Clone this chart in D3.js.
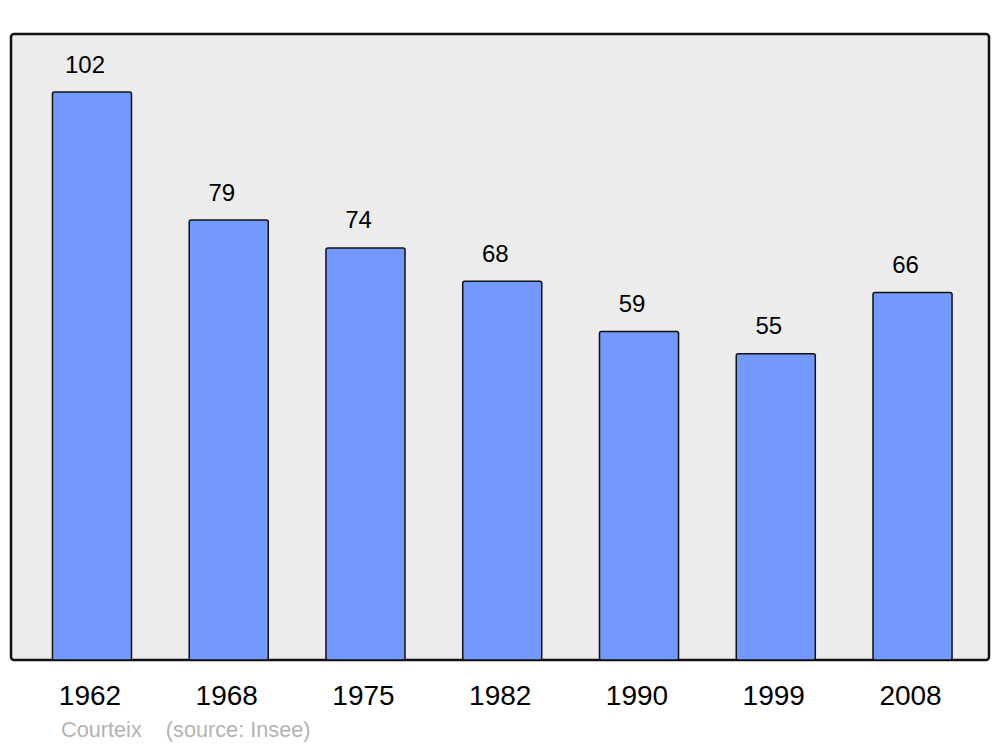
<!DOCTYPE html>
<html><head><meta charset="utf-8">
<script src="https://cdn.jsdelivr.net/npm/d3@7"></script>
<style>html,body{margin:0;padding:0;background:#fff;}</style>
</head><body>
<script>
const years = ["1962","1968","1975","1982","1990","1999","2008"];
const values = [102, 79, 74, 68, 59, 55, 66];
const credit = "Courteix    (source: Insee)";

const W = 1000, H = 747;
const svg = d3.select("body").append("svg").attr("width", W).attr("height", H)
  .style("font-family", "'Liberation Sans', Arial, sans-serif");

const panel = {x0: 11, y0: 34, x1: 989, y1: 660};
svg.append("rect").attr("x", panel.x0).attr("y", panel.y0)
  .attr("width", panel.x1 - panel.x0).attr("height", panel.y1 - panel.y0)
  .attr("rx", 3).attr("fill", "#ececec").attr("stroke", "#111").attr("stroke-width", 2.5);

const x = d3.scaleBand().domain(years).range([23.6, 980.9]).paddingInner(0.422).paddingOuter(0.211);
const y = d3.scaleLinear().domain([0, 102]).range([660, 92]);

svg.append("g").selectAll("rect").data(values).join("rect")
  .attr("x", (d, i) => x(years[i]))
  .attr("y", d => y(d))
  .attr("width", x.bandwidth())
  .attr("height", d => y(0) - y(d))
  .attr("rx", 2)
  .attr("fill", "#7399ff").attr("stroke", "#111").attr("stroke-width", 1.5);

svg.append("g").selectAll("text").data(values).join("text")
  .attr("x", (d, i) => x(years[i]) + x.bandwidth() / 2 - 7)
  .attr("y", d => y(d) - 19.5)
  .attr("text-anchor", "middle").attr("font-size", 24).attr("fill", "#000")
  .text(d => d);

const xAxis = svg.append("g").attr("transform", `translate(0,${panel.y1})`)
  .call(d3.axisBottom(x).tickSize(0).tickPadding(0));
xAxis.select(".domain").remove();
xAxis.selectAll("text").attr("font-size", 28).attr("fill", "#000")
  .attr("font-family", "'Liberation Sans', Arial, sans-serif")
  .attr("dy", null).attr("y", 45).attr("dx", -2);

svg.append("text").attr("x", 61).attr("y", 737).attr("font-size", 21.7)
  .attr("fill", "#b3b3b3").attr("xml:space", "preserve").style("white-space", "pre")
  .text(credit);
</script>
</body></html>
